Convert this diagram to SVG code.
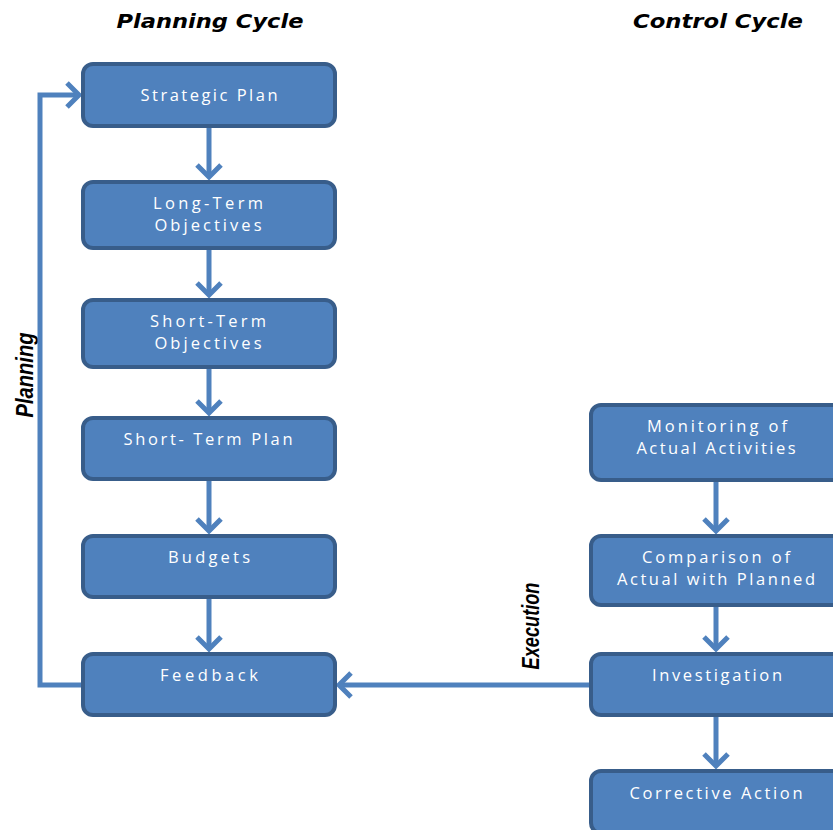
<svg xmlns="http://www.w3.org/2000/svg" width="833" height="830" viewBox="0 0 833 830">
  <style>
    .box { fill: #4f81bd; stroke: #385d8a; stroke-width: 4; }
    .lbl { font-family: "Open Sans", "Liberation Sans", Arial, sans-serif; font-size: 16.5px; fill: #ffffff; text-anchor: middle; }
    .title { font-family: "DejaVu Sans", "Liberation Sans", sans-serif; font-weight: bold; font-style: italic; font-size: 20px; fill: #000000; text-anchor: middle; }
    .side { font-family: "Liberation Sans", Arial, sans-serif; font-weight: bold; font-style: italic; font-size: 23px; fill: #000000; text-anchor: middle; }
    .conn { fill: none; stroke: #4f81bd; stroke-width: 5; }
  </style>
  <defs>
    <marker id="chev" markerUnits="userSpaceOnUse" viewBox="-16 -16 20 32" refX="0" refY="0" markerWidth="20" markerHeight="32" orient="auto">
      <path d="M -12 -12 L 0 0 L -12 12" fill="none" stroke="#4f81bd" stroke-width="5" stroke-linejoin="miter"/>
    </marker>
  </defs>

  <rect width="833" height="830" fill="#ffffff"/>

  <text class="title" x="210" y="28" textLength="187" lengthAdjust="spacingAndGlyphs">Planning Cycle</text>
  <text class="title" x="718" y="28" textLength="170" lengthAdjust="spacingAndGlyphs">Control Cycle</text>

  <text class="side" transform="translate(33,375) rotate(-90)" textLength="85" lengthAdjust="spacingAndGlyphs">Planning</text>
  <text class="side" transform="translate(539,626) rotate(-90)" textLength="87" lengthAdjust="spacingAndGlyphs">Execution</text>

  <g id="connectors">
    <line class="conn" x1="209" y1="126" x2="209" y2="177" marker-end="url(#chev)"/>
    <line class="conn" x1="209" y1="248" x2="209" y2="295" marker-end="url(#chev)"/>
    <line class="conn" x1="209" y1="367" x2="209" y2="413" marker-end="url(#chev)"/>
    <line class="conn" x1="209" y1="479" x2="209" y2="531" marker-end="url(#chev)"/>
    <line class="conn" x1="209" y1="597" x2="209" y2="649" marker-end="url(#chev)"/>
    <polyline class="conn" points="83,685 40,685 40,95 79,95" marker-end="url(#chev)"/>
    <line class="conn" x1="716" y1="480" x2="716" y2="531" marker-end="url(#chev)"/>
    <line class="conn" x1="716" y1="605" x2="716" y2="649" marker-end="url(#chev)"/>
    <line class="conn" x1="716" y1="715" x2="716" y2="766" marker-end="url(#chev)"/>
    <line class="conn" x1="590" y1="685" x2="339" y2="685" marker-end="url(#chev)"/>
  </g>

  <g id="strategic-plan">
    <rect class="box" x="83" y="64" width="252" height="62" rx="10"/>
    <text class="lbl" x="209" y="101" textLength="137" lengthAdjust="spacing">Strategic Plan</text>
  </g>
  <g id="long-term-objectives">
    <rect class="box" x="83" y="182" width="252" height="66" rx="10"/>
    <text class="lbl" x="208" y="209" textLength="110" lengthAdjust="spacing">Long-Term</text>
    <text class="lbl" x="208" y="231" textLength="107" lengthAdjust="spacing">Objectives</text>
  </g>
  <g id="short-term-objectives">
    <rect class="box" x="83" y="300" width="252" height="67" rx="10"/>
    <text class="lbl" x="208" y="327" textLength="116" lengthAdjust="spacing">Short-Term</text>
    <text class="lbl" x="208" y="349" textLength="107" lengthAdjust="spacing">Objectives</text>
  </g>
  <g id="short-term-plan">
    <rect class="box" x="83" y="418" width="252" height="61" rx="10"/>
    <text class="lbl" x="208" y="445" textLength="169" lengthAdjust="spacing">Short- Term Plan</text>
  </g>
  <g id="budgets">
    <rect class="box" x="83" y="536" width="252" height="61" rx="10"/>
    <text class="lbl" x="209" y="563" textLength="82" lengthAdjust="spacing">Budgets</text>
  </g>
  <g id="feedback">
    <rect class="box" x="83" y="654" width="252" height="61" rx="10"/>
    <text class="lbl" x="209" y="681" textLength="98" lengthAdjust="spacing">Feedback</text>
  </g>

  <g id="monitoring">
    <rect class="box" x="591" y="405" width="252" height="75" rx="10"/>
    <text class="lbl" x="717" y="432" textLength="140" lengthAdjust="spacing">Monitoring of</text>
    <text class="lbl" x="716" y="454" textLength="159" lengthAdjust="spacing">Actual Activities</text>
  </g>
  <g id="comparison">
    <rect class="box" x="591" y="536" width="252" height="69" rx="10"/>
    <text class="lbl" x="716" y="563" textLength="148" lengthAdjust="spacing">Comparison of</text>
    <text class="lbl" x="716" y="585" textLength="198" lengthAdjust="spacing">Actual with Planned</text>
  </g>
  <g id="investigation">
    <rect class="box" x="591" y="654" width="252" height="61" rx="10"/>
    <text class="lbl" x="717" y="681" textLength="130" lengthAdjust="spacing">Investigation</text>
  </g>
  <g id="corrective-action">
    <rect class="box" x="591" y="771" width="252" height="62" rx="10"/>
    <text class="lbl" x="716" y="799" textLength="173" lengthAdjust="spacing">Corrective Action</text>
  </g>
</svg>
